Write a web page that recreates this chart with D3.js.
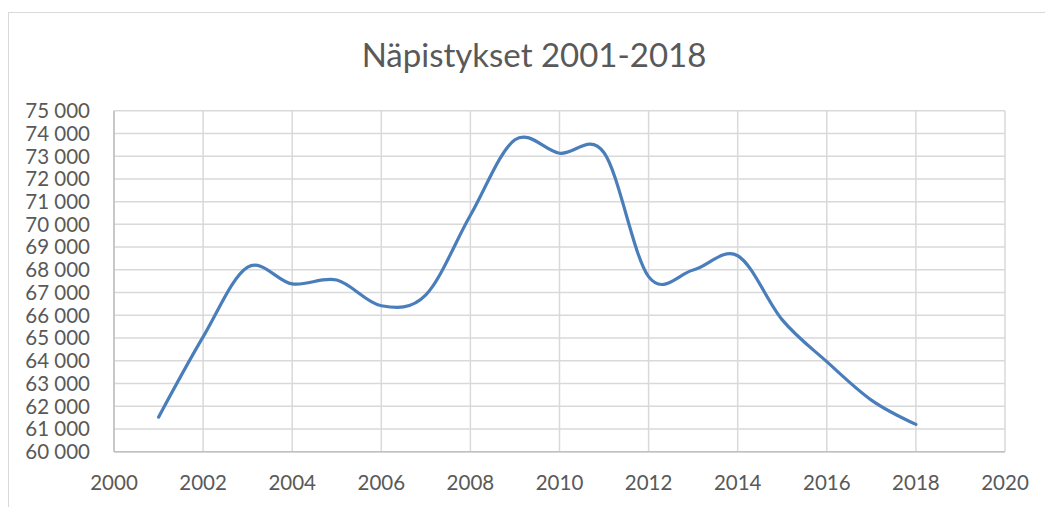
<!DOCTYPE html>
<html><head><meta charset="utf-8">
<script src="https://cdn.jsdelivr.net/npm/d3@7"></script>
<style>body{margin:0;background:#fff}svg{display:block}</style>
</head><body>
<script>
const years = [2001,2002,2003,2004,2005,2006,2007,2008,2009,2010,2011,2012,2013,2014,2015,2016,2017,2018];
const values = [61520,65050,68120,67380,67550,66420,66900,70400,73720,73130,73150,67700,67990,68620,65800,63960,62270,61200];
const yTicks = d3.range(60000,75001,1000);
const xTicks = d3.range(2000,2021,2);
const title = "Näpistykset 2001-2018";

const W=1045,H=507;
const svg=d3.select("body").append("svg").attr("width",W).attr("height",H);
svg.append("rect").attr("x",8.5).attr("y",12.5).attr("width",W).attr("height",H).attr("fill","#fff").attr("stroke","#d9d9d9").attr("stroke-width",1);

const L=114,R=1005,T=110.7,B=451.7;
const x=d3.scaleLinear().domain([2000,2020]).range([L,R]);
const y=d3.scaleLinear().domain([60000,75000]).range([B,T]);
const font="Lato, 'Open Sans', sans-serif";

svg.append("text").attr("x",534).attr("y",67).attr("text-anchor","middle")
  .attr("font-family",font).attr("font-size",33).attr("fill","#595959").text(title);

const g=svg.append("g");
g.selectAll(".hg").data(yTicks).join("line")
  .attr("x1",L).attr("x2",R).attr("y1",d=>y(d)).attr("y2",d=>y(d))
  .attr("stroke","#d9d9d9").attr("stroke-width",1.5);
g.selectAll(".vg").data(xTicks).join("line")
  .attr("y1",T).attr("y2",B).attr("x1",d=>x(d)).attr("x2",d=>x(d))
  .attr("stroke","#d9d9d9").attr("stroke-width",1.5);
g.append("line").attr("x1",L).attr("x2",R).attr("y1",B).attr("y2",B).attr("stroke","#bfbfbf").attr("stroke-width",1.5);
g.append("line").attr("x1",L).attr("x2",L).attr("y1",T).attr("y2",B).attr("stroke","#bfbfbf").attr("stroke-width",1.5);

const fmt=d=>d3.format(",")(d).replace(/,/g," ");
g.selectAll(".yl").data(yTicks).join("text")
  .attr("x",90).attr("y",d=>y(d)).attr("dy","0.36em").attr("text-anchor","end")
  .attr("font-family",font).attr("font-size",20.5).attr("fill","#595959").text(fmt);
g.selectAll(".xl").data(xTicks).join("text")
  .attr("x",d=>x(d)).attr("y",490).attr("text-anchor","middle")
  .attr("font-family",font).attr("font-size",20.5).attr("fill","#595959").text(d=>d);

const line=d3.line().x((d,i)=>x(years[i])).y(d=>y(d)).curve(d3.curveCatmullRom.alpha(0));
g.append("path").datum(values).attr("d",line).attr("fill","none")
  .attr("stroke","#4a7ebb").attr("stroke-width",3.2).attr("stroke-linecap","round");
</script>
</body></html>
